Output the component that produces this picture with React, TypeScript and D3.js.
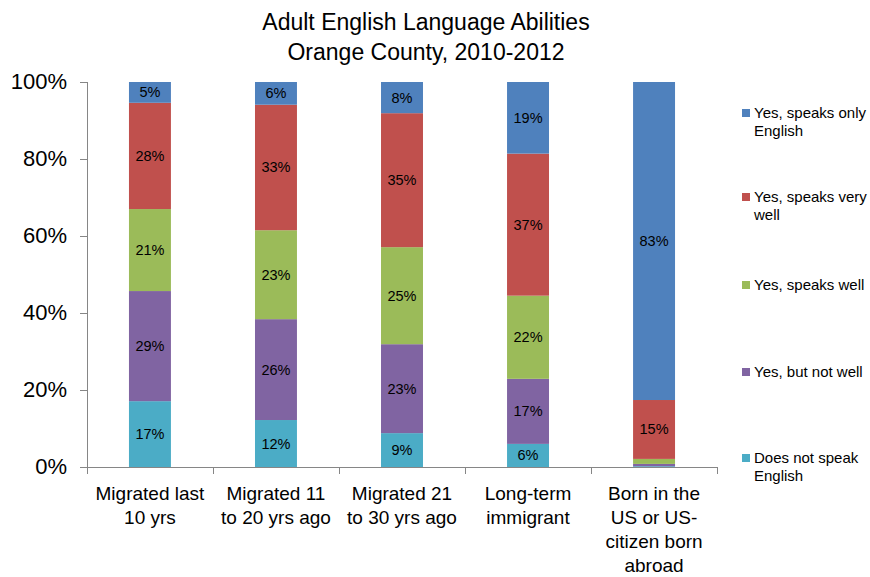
import React from "react";
import * as d3 from "d3";

const categories = [
  ["Migrated last", "10 yrs"],
  ["Migrated 11", "to 20 yrs ago"],
  ["Migrated 21", "to 30 yrs ago"],
  ["Long-term", "immigrant"],
  ["Born in the", "US or US-", "citizen born", "abroad"],
];
const seriesNames = [
  "Does not speak English",
  "Yes, but not well",
  "Yes, speaks well",
  "Yes, speaks very well",
  "Yes, speaks only English",
];
const legendLines = [
  ["Does not speak", "English"],
  ["Yes, but not well"],
  ["Yes, speaks well"],
  ["Yes, speaks very", "well"],
  ["Yes, speaks only", "English"],
];
const colors = ["#4BACC6", "#8064A2", "#9BBB59", "#C0504D", "#4F81BD"];
const doesNotSpeak = [17.1, 12.2, 8.8, 6.0, 0.2];
const notWell = [28.6, 26.2, 23.1, 16.9, 0.6];
const speaksWell = [21.3, 23.1, 25.2, 21.6, 1.3];
const veryWell = [27.6, 32.6, 34.8, 36.9, 15.3];
const onlyEnglish = [5.4, 5.9, 8.1, 18.6, 82.6];
const yTicks = [0, 20, 40, 60, 80, 100];

const series = [doesNotSpeak, notWell, speaksWell, veryWell, onlyEnglish];
const FONT = "'Liberation Sans', Arial, sans-serif";

export default function App() {
  const W = 870, H = 577;
  const left = 87, right = 717, top = 82, bottom = 467;
  const idx = categories.map((_, i) => i);
  const x = d3.scaleBand<number>().domain(idx).range([left, right]).paddingInner(0.667).paddingOuter(0.333);
  const y = d3.scaleLinear().domain([0, 100]).range([bottom, top]);
  const table = idx.map((i) => {
    const o: any = { i };
    series.forEach((s, k) => (o["s" + k] = s[i]));
    return o;
  });
  const stacked = d3.stack<any>().keys(series.map((_, k) => "s" + k))(table);
  const fmt = (v: number) => Math.round(v) + "%";
  const band = (right - left) / categories.length;
  const legendY = [463, 377, 290, 202, 118];

  return (
    <svg width={W} height={H} style={{ position: "absolute", left: 0, top: 0, background: "#fff" }} fontFamily={FONT}>
      <text x={426} y={30} textAnchor="middle" fontSize={23} fill="#000">Adult English Language Abilities</text>
      <text x={426} y={60} textAnchor="middle" fontSize={23} fill="#000">Orange County, 2010-2012</text>

      {stacked.map((layer, k) => (
        <g key={k}>
          {layer.map((d, i) => (
            <rect key={i} x={x(i)} width={x.bandwidth()} y={y(d[1])} height={y(d[0]) - y(d[1])} fill={colors[k]} />
          ))}
        </g>
      ))}
      {stacked.map((layer, k) => (
        <g key={"l" + k}>
          {layer.map((d, i) => {
            const v = d[1] - d[0];
            if (v < 3) return null;
            return (
              <text key={i} x={(x(i) as number) + x.bandwidth() / 2} y={(y(d[0]) + y(d[1])) / 2 + 5}
                textAnchor="middle" fontSize={14.5} fill="#000">{fmt(v)}</text>
            );
          })}
        </g>
      ))}

      <line x1={left + 0.5} x2={left + 0.5} y1={top} y2={bottom} stroke="#868686" />
      <line x1={left - 7} x2={right} y1={bottom + 0.5} y2={bottom + 0.5} stroke="#868686" />
      {yTicks.map((t) => (
        <g key={t}>
          <line x1={left - 7} x2={left} y1={Math.round(y(t)) + 0.5} y2={Math.round(y(t)) + 0.5} stroke="#868686" />
          <text x={67} y={y(t) + 7} textAnchor="end" fontSize={22} fill="#000">{t + "%"}</text>
        </g>
      ))}
      {d3.range(categories.length + 1).map((j) => (
        <line key={j} x1={Math.round(left + j * band) + 0.5} x2={Math.round(left + j * band) + 0.5}
          y1={bottom} y2={bottom + 7} stroke="#868686" />
      ))}
      {categories.map((lines, i) => (
        <text key={i} textAnchor="middle" fontSize={19} fill="#000">
          {lines.map((ln, j) => (
            <tspan key={j} x={(x(i) as number) + x.bandwidth() / 2} y={500 + j * 24}>{ln}</tspan>
          ))}
        </text>
      ))}

      {legendLines.map((lines, k) => (
        <g key={k}>
          <rect x={742} y={legendY[k] - 9} width={8} height={8} fill={colors[k]} />
          <text fontSize={15} fill="#000">
            {lines.map((ln, j) => (
              <tspan key={j} x={754} y={legendY[k] + j * 18}>{ln}</tspan>
            ))}
          </text>
        </g>
      ))}
    </svg>
  );
}
